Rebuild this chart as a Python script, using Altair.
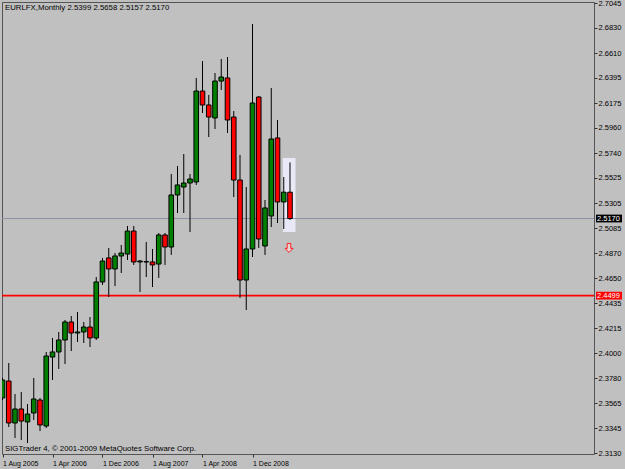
import altair as alt
import pandas as pd

# ---- data (monthly bars, Aug 2005 .. Jun 2009) ----
bar = list(range(47))
opens = [2.3609, 2.3756, 2.3391, 2.3513, 2.3400, 2.3478, 2.3591, 2.3365, 2.3965, 2.4009,
         2.4113, 2.4270, 2.4174, 2.4183, 2.4226, 2.4131, 2.4618, 2.4827, 2.4731, 2.4844,
         2.4861, 2.5061, 2.4792, 2.4792, 2.4792, 2.4774, 2.5027, 2.4922, 2.5375, 2.5444,
         2.5479, 2.5488, 2.6279, 2.6158, 2.6045, 2.6366, 2.6393, 2.6053, 2.5505, 2.4635,
         2.4905, 2.6227, 2.4931, 2.5192, 2.5871, 2.5314, 2.5399]
highs = [2.3783, 2.3913, 2.3643, 2.3661, 2.3556, 2.3783, 2.3609, 2.4009, 2.4131, 2.4183,
         2.4287, 2.4322, 2.4357, 2.4270, 2.4313, 2.4661, 2.4827, 2.4914, 2.4870, 2.4940,
         2.5105, 2.5105, 2.4809, 2.4966, 2.4905, 2.5044, 2.5044, 2.5557, 2.5627, 2.5731,
         2.5557, 2.6393, 2.6540, 2.6245, 2.6436, 2.6558, 2.6575, 2.6105, 2.5723, 2.5444,
         2.6862, 2.6236, 2.5331, 2.6306, 2.6027, 2.5531, 2.5658]
lows = [2.3591, 2.3356, 2.3261, 2.3243, 2.3217, 2.3417, 2.3321, 2.3348, 2.3765, 2.3861,
        2.3904, 2.4017, 2.4096, 2.4087, 2.4052, 2.4113, 2.4592, 2.4487, 2.4583, 2.4696,
        2.4809, 2.4766, 2.4531, 2.4661, 2.4574, 2.4653, 2.4766, 2.4853, 2.5218, 2.5218,
        2.5053, 2.5462, 2.6088, 2.5879, 2.5949, 2.6288, 2.5914, 2.5357, 2.4479, 2.4374,
        2.4835, 2.4914, 2.4853, 2.5096, 2.5131, 2.5079, 2.5157]
closes = [2.3765, 2.3391, 2.3513, 2.3408, 2.3469, 2.3600, 2.3374, 2.3974, 2.4009, 2.4113,
          2.4270, 2.4174, 2.4183, 2.4226, 2.4131, 2.4618, 2.4800, 2.4731, 2.4844, 2.4870,
          2.5061, 2.4792, 2.4800, 2.4795, 2.4766, 2.5027, 2.4922, 2.5375, 2.5462, 2.5479,
          2.5514, 2.6279, 2.6158, 2.6053, 2.6366, 2.6401, 2.6027, 2.5505, 2.4635, 2.4905,
          2.6175, 2.4992, 2.5262, 2.5862, 2.5314, 2.5399, 2.5170]

x_tick_bars = [0, 8, 16, 24, 32, 40]
x_tick_labels = ["1 Aug 2005", "1 Apr 2006", "1 Dec 2006", "1 Aug 2007", "1 Apr 2008", "1 Dec 2008"]
y_ticks = [2.7045, 2.6830, 2.6610, 2.6395, 2.6175, 2.5960, 2.5740, 2.5525, 2.5305, 2.5085,
           2.4870, 2.4650, 2.4435, 2.4215, 2.4000, 2.3780, 2.3565, 2.3345, 2.3130]

level_prices = [2.5170, 2.4499]
level_line_colors = ["#8a92a4", "#ff0000"]
level_line_widths = [1.0, 1.8]
level_tag_colors = ["#000000", "#ff0000"]

box_bars = [44.85, 46.88]
box_prices = [2.5053, 2.5697]

arrow_bar = [46]
arrow_price = [2.4914]

header = "EURLFX,Monthly  2.5399 2.5658 2.5157 2.5170"
footer = "SIGTrader 4, \u00a9 2001-2009 MetaQuotes Software Corp."

FONT = "Liberation Sans"
BG = "#c0c0c0"

# ---- tables ----
df = pd.DataFrame({"bar": bar, "open": opens, "high": highs, "low": lows, "close": closes})
df["fill"] = ["#008000" if c >= o else "#ff0000" for o, c in zip(opens, closes)]
levels = pd.DataFrame({"price": level_prices, "line": level_line_colors, "w": level_line_widths,
                       "tag": level_tag_colors, "label": [f"{p:.4f}" for p in level_prices]})
box = pd.DataFrame({"b0": [box_bars[0]], "b1": [box_bars[1]], "p0": [box_prices[0]], "p1": [box_prices[1]]})
arrow = pd.DataFrame({"bar": arrow_bar, "price": arrow_price})

label_expr = " : ".join(f"datum.value == {b} ? '{t}'" for b, t in zip(x_tick_bars, x_tick_labels)) + " : ''"

xs = alt.Scale(domain=[-0.08, 94.64], nice=False, zero=False, padding=0)
ys = alt.Scale(domain=[2.31213, 2.70537], nice=False, zero=False, padding=0)
x_axis = alt.Axis(values=x_tick_bars, labelExpr=label_expr, title=None, grid=False, domain=False,
                  tickSize=3, tickColor="#333333", labelAlign="left", labelPadding=2,
                  labelFont=FONT, labelFontSize=7, labelColor="#000000",
                  labelFlush=False, labelOverlap=False, zindex=0)
y_axis = alt.Axis(values=y_ticks, format=".4f", orient="right", title=None, grid=False, domain=False,
                  tickSize=3, tickColor="#333333", labelPadding=1,
                  labelFont=FONT, labelFontSize=7.5, labelColor="#000000",
                  labelFlush=False, labelOverlap=False, zindex=0)

def X(f):
    return alt.X(f, scale=xs, axis=x_axis)

def Y(f):
    return alt.Y(f, scale=ys, axis=y_axis)

box_layer = alt.Chart(box).mark_rect(fill="#e8e8f6").encode(
    x=X("b0:Q"), x2="b1:Q", y=Y("p0:Q"), y2="p1:Q")

level_lines = alt.Chart(levels).mark_rule().encode(
    y=Y("price:Q"), color=alt.Color("line:N", scale=None),
    strokeWidth=alt.StrokeWidth("w:Q", scale=None))

wicks = alt.Chart(df).mark_rule(color="#000000", strokeWidth=1, clip=True).encode(
    x=X("bar:Q"), y=Y("low:Q"), y2="high:Q")

bodies = alt.Chart(df).mark_bar(width=4.6, stroke="#000000", strokeWidth=1, clip=True).encode(
    x=X("bar:Q"), y=Y("open:Q"), y2="close:Q", fill=alt.Fill("fill:N", scale=None))

arrow_shape = "M-0.4,-1 L0.4,-1 L0.4,0.1 L0.9,0.1 L0,1 L-0.9,0.1 L-0.4,0.1 Z"
arrow_layer = alt.Chart(arrow).mark_point(shape=arrow_shape, size=81, filled=False, stroke="#ff2020",
                                          strokeWidth=1, fill="#e6d2d2", fillOpacity=1, opacity=1,
                                          xOffset=-1).encode(
    x=X("bar:Q"), y=Y("price:Q"))

tag_shape = "M-1,-0.3 L1,-0.3 L1,0.3 L-1,0.3 Z"
tags = alt.Chart(levels).mark_point(shape=tag_shape, size=676, filled=True, opacity=1,
                                    clip=False).encode(
    x=alt.value(607), y=Y("price:Q"), color=alt.Color("tag:N", scale=None))

tag_text = alt.Chart(levels).mark_text(align="left", baseline="middle", font=FONT, fontSize=7.5,
                                       color="#ffffff", clip=False).encode(
    x=alt.value(595), y=Y("price:Q"), text="label:N")

head = alt.Chart(pd.DataFrame({"t": [header]})).mark_text(
    align="left", baseline="alphabetic", font=FONT, fontSize=7.8, color="#000000").encode(
    x=alt.value(3), y=alt.value(7.5), text="t:N")

foot = alt.Chart(pd.DataFrame({"t": [footer]})).mark_text(
    align="left", baseline="alphabetic", font=FONT, fontSize=7.8, color="#000000").encode(
    x=alt.value(3), y=alt.value(449), text="t:N")

chart = alt.layer(box_layer, level_lines, wicks, bodies, arrow_layer, tags, tag_text, head, foot).properties(
    width=592, height=452, autosize="none",
    padding={"left": 2, "top": 2, "right": 31, "bottom": 15},
    background=BG,
).configure_view(fill=BG, stroke="#555555", strokeWidth=1)

chart.save("out.html", embed_options={"renderer": "svg", "actions": False})
